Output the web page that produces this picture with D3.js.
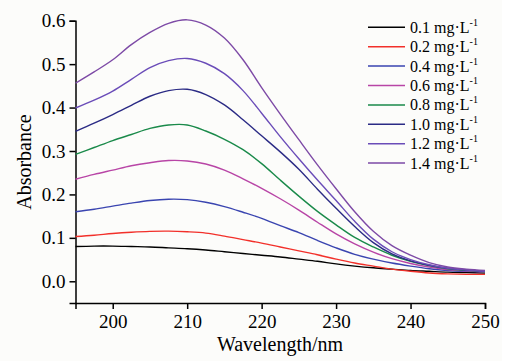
<!DOCTYPE html>
<html>

<head>
  <meta charset="utf-8">
  <style type="text/css">
    body {
      margin: 0;
      background: #fff;
    }
    svg text {
      font-family: "Liberation Serif", "Times New Roman", serif;
    }
  </style>
  <title>Absorbance</title>
</head>

<body>
  <script src="https://cdn.jsdelivr.net/npm/d3@7/dist/d3.min.js"></script>
  <script>
    // wavelengths (nm) that every series is read at
    var wavelengths = [195, 197.5, 200, 202.5, 205, 207.5, 210, 212.5, 215, 217.5, 220, 222.5,
      225, 227.5, 230, 232.5, 235, 237.5, 240, 242.5, 245, 247.5, 250];

    var labels = ["0.1", "0.2", "0.4", "0.6", "0.8", "1.0", "1.2", "1.4"];
    var colors = ["#000000", "#f2302a", "#3a45b0", "#b845a6", "#1a8a4a", "#2b2b85", "#6a4cb8", "#7d4aa6"];

    var c01 = [.080, .081, .081, .080, .079, .077, .075, .072, .068, .064, .060, .056,
      .051, .046, .040, .035, .031, .028, .025, .023, .021, .020, .019];
    var c02 = [.103, .106, .110, .113, .115, .1155, .114, .111, .104, .096, .088, .079,
      .070, .061, .051, .042, .035, .028, .023, .019, .017, .016, .016];
    var c04 = [.160, .166, .173, .180, .186, .189, .188, .182, .172, .159, .145, .128,
      .112, .094, .077, .062, .051, .042, .035, .029, .025, .023, .022];
    var c06 = [.235, .246, .256, .266, .273, .278, .277, .270, .256, .236, .214, .190,
      .164, .136, .109, .086, .067, .052, .041, .033, .027, .024, .021];
    var c08 = [.292, .308, .324, .338, .352, .360, .360, .346, .327, .303, .271, .233,
      .196, .161, .130, .101, .079, .060, .046, .036, .029, .025, .022];
    var c10 = [.345, .364, .384, .405, .426, .439, .442, .430, .406, .372, .335, .298,
      .258, .212, .168, .126, .089, .063, .047, .037, .030, .026, .023];
    var c12 = [.399, .417, .438, .465, .492, .508, .513, .502, .478, .439, .387, .333,
      .282, .233, .186, .138, .097, .068, .050, .038, .030, .026, .023];
    var c14 = [.456, .482, .510, .545, .573, .594, .602, .590, .560, .510, .446, .385,
      .326, .268, .213, .160, .115, .082, .060, .043, .033, .028, .025];

    var series = [c01, c02, c04, c06, c08, c10, c12, c14];

    var xTicks = [200, 210, 220, 230, 240, 250];
    var yTicks = [0.0, 0.1, 0.2, 0.3, 0.4, 0.5, 0.6];

    var width = 531,
      height = 361;

    var svg = d3.select("body").append("svg")
      .attr("width", width)
      .attr("height", height);

    svg.append("rect")
      .attr("width", 502)
      .attr("height", height)
      .attr("fill", "#fcfcfa");

    var x = d3.scaleLinear()
      .domain([195, 250])
      .range([75.5, 485]);

    var y = d3.scaleLinear()
      .domain([-0.05, 0.6])
      .range([303, 20.7]);

    var xAxis = d3.axisBottom(x)
      .tickValues(xTicks)
      .tickFormat(d3.format("d"))
      .tickSizeOuter(0)
      .tickSize(6)
      .tickPadding(6);

    var yAxis = d3.axisLeft(y)
      .tickValues(yTicks)
      .tickFormat(d3.format(".1f"))
      .tickSizeOuter(0)
      .tickSize(6)
      .tickPadding(4);

    var gx = svg.append("g")
      .attr("transform", "translate(0," + 303 + ")")
      .call(xAxis);

    var gy = svg.append("g")
      .attr("transform", "translate(" + 75.5 + ",0)")
      .call(yAxis);

    [gx, gy].forEach(function (g) {
      g.attr("font-family", "Liberation Serif")
        .attr("font-size", 19);
      g.selectAll("path, line")
        .attr("stroke", "#000")
        .attr("stroke-width", 1.5);
      g.selectAll("text")
        .attr("fill", "#000");
    });

    var line = d3.line()
      .x(function (d, i) { return x(wavelengths[i]); })
      .y(function (d) { return y(d); })
      .curve(d3.curveCatmullRom.alpha(0.5));

    series.forEach(function (s, i) {
      svg.append("path").datum(s)
        .attr("d", line)
        .attr("fill", "none")
        .attr("stroke", colors[i])
        .attr("stroke-width", 1.4);
    });

    // axis titles
    svg.append("text")
      .attr("x", 280)
      .attr("y", 351)
      .attr("text-anchor", "middle")
      .style("font-size", "20px")
      .text("Wavelength/nm");

    svg.append("text")
      .attr("transform", "translate(31,162) rotate(-90)")
      .attr("text-anchor", "middle")
      .style("font-size", "20px")
      .text("Absorbance");

    // legend
    var legend = svg.append("g");
    labels.forEach(function (lab, i) {
      var ly = 27.3 + i * 19.4;
      legend.append("line")
        .attr("x1", 368).attr("x2", 405)
        .attr("y1", ly).attr("y2", ly)
        .attr("stroke", colors[i])
        .attr("stroke-width", 1.5);
      var t = legend.append("text")
        .attr("x", 410)
        .attr("y", ly + 5.5)
        .style("font-size", "16px");
      t.append("tspan").text(lab + " mg\u00b7L");
      t.append("tspan")
        .attr("dy", -7)
        .style("font-size", "10px")
        .text("-1");
    });
  </script>
</body>

</html>
